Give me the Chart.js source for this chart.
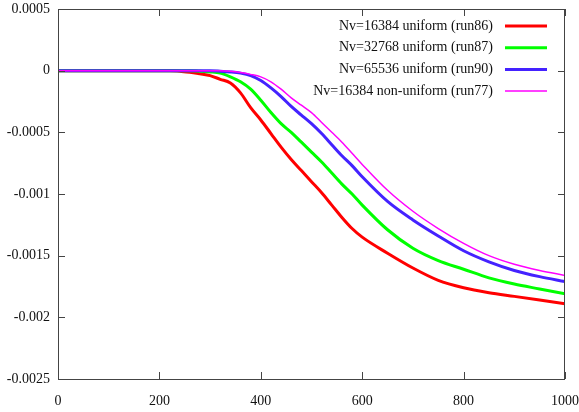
<!DOCTYPE html>
<html lang="en">
  <head>
    <meta charset="UTF-8" />
    <title>Nv comparison</title>
    <script src="https://cdn.jsdelivr.net/npm/chart.js"></script>
    <style>
      html, body {
        margin: 0;
        padding: 0;
        background: #fff;
      }
      #wrap {
        width: 579px;
        height: 412px;
      }
    </style>
  </head>
  <body>
    <div id="wrap"><canvas id="chart"></canvas></div>
    <script>
      // x positions (time)
      const xs = [0, 100, 200, 220, 240, 260, 280, 300, 320, 340, 360, 380, 400, 420, 440, 460, 480,
                  500, 520, 540, 560, 580, 600, 650, 700, 750, 800, 850, 900, 950, 1000];

      const run86 = [0, 0, 0, 0, -0.000005, -0.000012, -0.000025, -0.00004, -0.00007, -0.0001, -0.00018,
                     -0.0003, -0.0004, -0.00051, -0.00062, -0.00072, -0.00081, -0.0009, -0.00099,
                     -0.00109, -0.00119, -0.00128, -0.00135, -0.00148, -0.0016, -0.0017, -0.00176,
                     -0.0018, -0.00183, -0.00186, -0.00189];
      const run87 = [0, 0, 0, 0, 0, 0, -0.000005, -0.00001, -0.00002, -0.00005, -0.00009,
                     -0.00015, -0.00024, -0.00034, -0.00043, -0.0005, -0.00058, -0.00066, -0.00074,
                     -0.00083, -0.00092, -0.001, -0.00109, -0.00129, -0.00144, -0.00154, -0.00161,
                     -0.00168, -0.00173, -0.00177, -0.00181];
      const run90 = [0, 0, 0, 0, 0, 0, 0, 0, -0.000004, -0.00001, -0.00002,
                     -0.00004, -0.00008, -0.00014, -0.00021, -0.00029, -0.00036, -0.00043, -0.00051,
                     -0.0006, -0.00069, -0.00077, -0.00086, -0.00106, -0.00121, -0.00134, -0.00146,
                     -0.00155, -0.00162, -0.00167, -0.00171];
      const run77 = [0, 0, 0, 0, 0, 0, 0, 0, 0, -0.000005, -0.000015,
                     -0.00003, -0.00005, -0.00009, -0.00015, -0.00022, -0.00028, -0.00034, -0.00042,
                     -0.0005, -0.00058, -0.00067, -0.00076, -0.00097, -0.00114, -0.00128, -0.0014,
                     -0.0015, -0.00157, -0.00162, -0.00166];

      const labels = [
        "Nv=16384 uniform (run86)",
        "Nv=32768 uniform (run87)",
        "Nv=65536 uniform (run90)",
        "Nv=16384 non-uniform (run77)",
      ];
      const xTicks = [0, 200, 400, 600, 800, 1000];
      const yTicks = [0.0005, 0, -0.0005, -0.001, -0.0015, -0.002, -0.0025];

      const font = "Liberation Serif, Times New Roman, serif";

      function pts(ys) {
        return xs.map((x, i) => ({ x: x, y: ys[i] }));
      }

      // no automatic label padding, the plot box is placed by layout.padding alone
      function noPad(s) {
        s.paddingTop = 0;
        s.paddingBottom = 0;
        s.paddingLeft = 0;
        s.paddingRight = 0;
      }

      // gnuplot style frame, inward ticks on all sides, legend with sample on the right
      const gnuFrame = {
        id: "gnuFrame",
        afterDraw(chart) {
          const c = chart.ctx;
          const a = chart.chartArea;
          const sx = chart.scales.x;
          const sy = chart.scales.y;
          c.save();
          c.strokeStyle = "#444";
          c.lineWidth = 1;
          c.strokeRect(a.left + 0.5, a.top + 0.5, a.right - a.left - 1, a.bottom - a.top);
          c.beginPath();
          xTicks.forEach((v) => {
            const p = Math.round(sx.getPixelForValue(v)) + 0.5;
            c.moveTo(p, a.bottom); c.lineTo(p, a.bottom - 7);
            c.moveTo(p, a.top); c.lineTo(p, a.top + 7);
          });
          yTicks.forEach((v) => {
            const p = Math.round(sy.getPixelForValue(v)) + 0.5;
            c.moveTo(a.left, p); c.lineTo(a.left + 7, p);
            c.moveTo(a.right, p); c.lineTo(a.right - 7, p);
          });
          c.stroke();

          // legend
          c.font = "14px " + font;
          c.textAlign = "right";
          c.textBaseline = "middle";
          chart.data.datasets.forEach((ds, i) => {
            const y = a.top + 17 + i * 21.7;
            c.fillStyle = "#111";
            c.fillText(ds.label, a.right - 72, y);
            c.strokeStyle = ds.borderColor;
            c.lineWidth = ds.borderWidth;
            c.beginPath();
            c.moveTo(a.right - 60, y);
            c.lineTo(a.right - 18, y);
            c.stroke();
          });
          c.restore();
        },
      };

      const ctx = document.getElementById("chart").getContext("2d");
      new Chart(ctx, {
        type: "line",
        data: {
          datasets: [
            { label: labels[0], data: pts(run86), borderColor: "#ff0000", borderWidth: 3, order: 3 },
            { label: labels[1], data: pts(run87), borderColor: "#00ff00", borderWidth: 3, order: 2 },
            { label: labels[2], data: pts(run90), borderColor: "#4422ff", borderWidth: 3, order: 1 },
            { label: labels[3], data: pts(run77), borderColor: "#ff00ff", borderWidth: 1.5, order: 0 },
          ],
        },
        options: {
          responsive: true,
          maintainAspectRatio: false,
          animation: false,
          elements: {
            point: { radius: 0 },
            line: { cubicInterpolationMode: "monotone", fill: false },
          },
          layout: { autoPadding: false, padding: { top: 9, right: 14, left: 0, bottom: 0 } },
          plugins: {
            legend: { display: false },
            tooltip: { enabled: false },
          },
          scales: {
            x: {
              type: "linear",
              min: 0,
              max: 1000,
              afterBuildTicks: (s) => { s.ticks = xTicks.map((v) => ({ value: v })); },
              afterFit: (s) => { s.height = 33; noPad(s); },
              grid: { display: false, drawTicks: false },
              border: { display: false },
              ticks: {
                padding: 14,
                color: "#111",
                font: { family: font, size: 14 },
                maxRotation: 0,
                callback: (v) => String(v),
              },
            },
            y: {
              type: "linear",
              min: -0.0025,
              max: 0.0005,
              afterBuildTicks: (s) => { s.ticks = yTicks.map((v) => ({ value: v })); },
              afterFit: (s) => { s.width = 58; noPad(s); },
              grid: { display: false, drawTicks: false },
              border: { display: false },
              ticks: {
                padding: 8,
                color: "#111",
                font: { family: font, size: 14 },
                callback: (v) => String(Number(Number(v).toFixed(4))),
              },
            },
          },
        },
        plugins: [gnuFrame],
      });
    </script>
  </body>
</html>
